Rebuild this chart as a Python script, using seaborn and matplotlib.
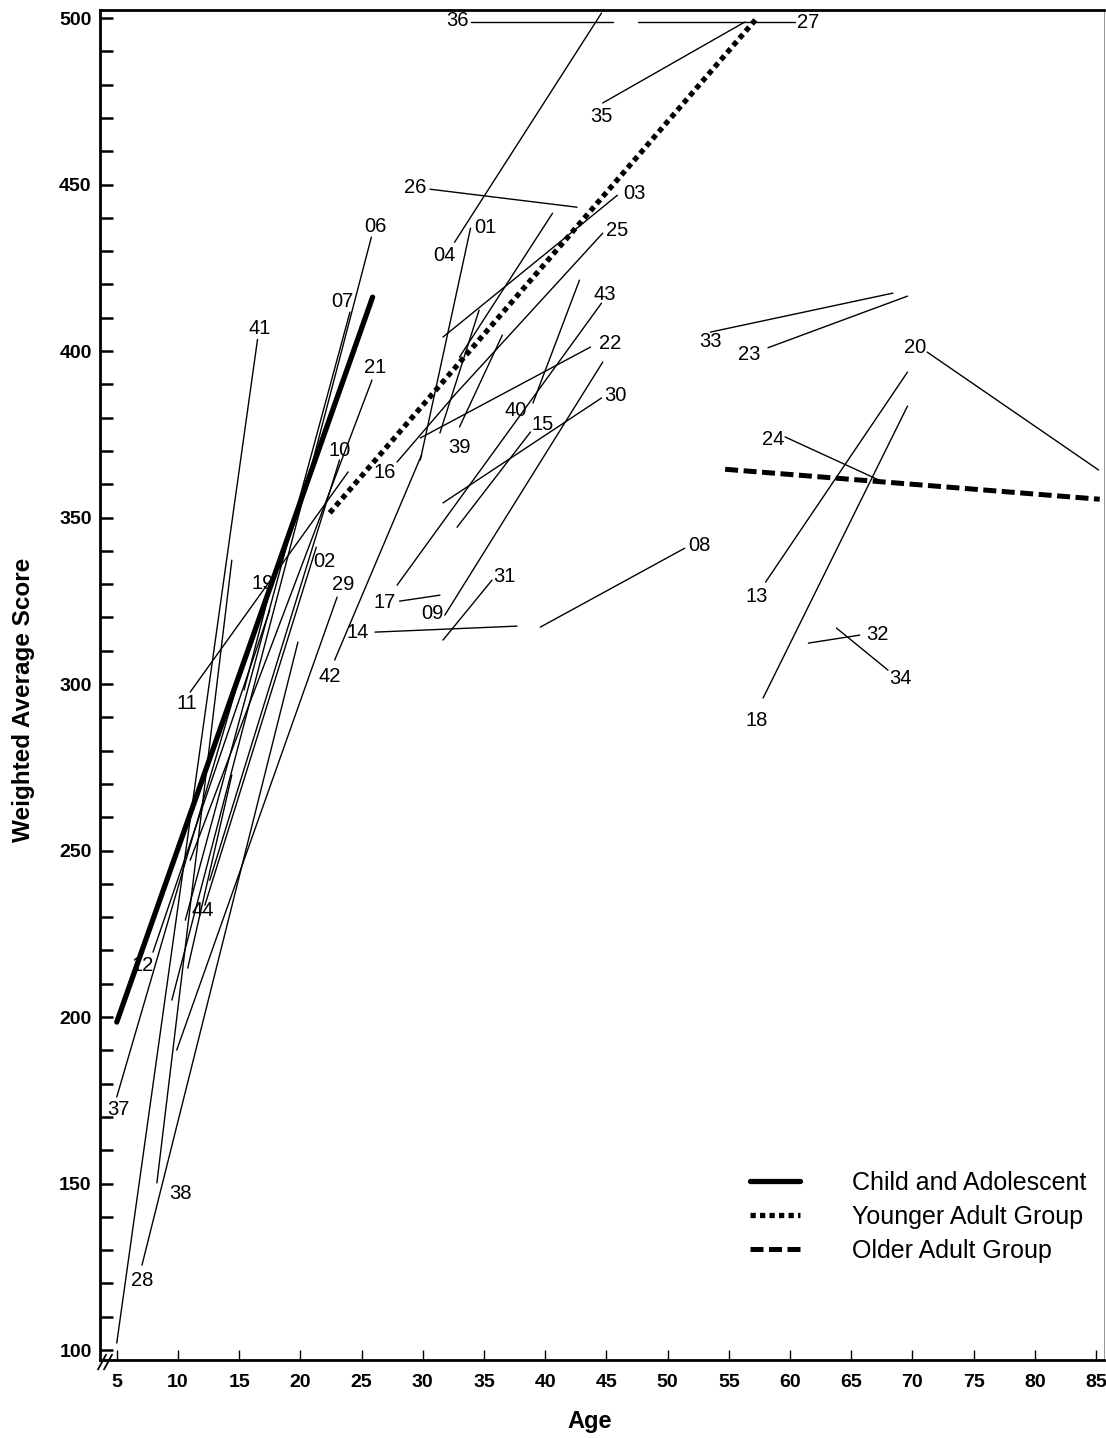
import numpy as np
import pandas as pd
import seaborn as sns
import matplotlib.pyplot as plt

# individual subject lines (start age, start score) -> (end age, end score)
subj_id = ['36', '27', '35', '04', '26', '03', '01', '25', '16', 'u1', 'u2',
           '07', '06', '41', '21', '10', '02', '29', '28', '38', '37', '12',
           '44', '11', '42', '19', '43', '22', '30', '15', '40', '31', '09',
           '14', '08', '17', '39', '33', '23', '20', '24', '13', '18', '32', '34']
age_start = [33.9, 47.6, 44.7, 32.6, 30.6, 31.65, 29.8, 32.6, 27.9, 40.6, 34.6,
             24.05, 25.8, 5.0, 25.85, 23.2, 21.3, 23.0, 7.06, 8.28, 5.0, 7.96,
             10.8, 11.0, 22.8, 17.35, 27.9, 29.8, 31.65, 32.8, 39.0, 31.65, 31.8,
             26.1, 39.6, 28.1, 33.0, 53.5, 58.2, 71.2, 59.6, 58.0, 57.8, 61.5, 63.8]
score_start = [498.8, 498.8, 474.5, 432.7, 448.6, 404.2, 367.3, 386.8, 366.7, 441.4, 412.3,
               411.7, 434.2, 102.1, 391.3, 367.3, 341.1, 326.1, 125.5, 150.2, 176.0, 219.5,
               214.7, 297.6, 307.2, 325.8, 329.7, 373.9, 354.4, 347.1, 384.4, 313.2, 320.7,
               315.6, 317.1, 324.9, 377.2, 405.7, 401.0, 399.7, 374.2, 330.6, 295.8, 312.3, 316.8]
age_end = [45.5, 60.4, 56.3, 44.6, 42.6, 45.9, 33.9, 44.7, 32.6, 33.0, 31.4,
           10.6, 9.5, 16.5, 11.0, 12.6, 12.2, 9.9, 19.8, 14.4, 15.9, 17.5,
           14.4, 23.9, 29.9, 15.4, 44.6, 43.7, 44.6, 38.8, 42.8, 35.65, 44.7,
           37.7, 51.4, 31.4, 36.5, 68.4, 69.6, 85.2, 67.6, 69.6, 69.6, 65.7, 68.0]
score_end = [498.8, 498.8, 498.8, 501.5, 443.2, 446.8, 436.9, 435.4, 386.8, 398.2, 375.4,
             229.1, 205.1, 403.5, 247.1, 241.1, 233.6, 190.1, 312.6, 337.2, 313.2, 322.2,
             272.7, 363.7, 368.8, 298.2, 414.4, 401.2, 385.9, 375.7, 421.3, 331.2, 396.7,
             317.4, 340.8, 326.7, 404.8, 417.4, 416.5, 364.3, 360.7, 393.7, 383.5, 314.7, 304.2]

# where each subject number is printed
label_text = ['36', '27', '35', '04', '26', '03', '01', '25', '16', '', '',
              '07', '06', '41', '21', '10', '02', '29', '28', '38', '37', '12',
              '44', '11', '42', '19', '43', '22', '30', '15', '40', '31', '09',
              '14', '08', '17', '39', '33', '23', '20', '24', '13', '18', '32', '34']
label_age = [32.8, 61.5, 44.6, 31.8, 29.4, 47.3, 35.1, 45.9, 26.9, 0, 0,
             23.4, 26.1, 16.7, 26.1, 23.2, 22.0, 23.5, 7.1, 10.2, 5.1, 7.1,
             12.0, 10.7, 22.4, 16.9, 44.9, 45.3, 45.7, 39.8, 37.6, 36.7, 30.75,
             24.7, 52.6, 26.9, 33.0, 53.5, 56.7, 70.2, 58.6, 57.3, 57.3, 67.1, 69.0]
label_score = [499.4, 498.8, 470.3, 428.8, 449.0, 447.4, 437.2, 436.3, 363.4, 0, 0,
               415.0, 437.5, 406.9, 395.2, 370.0, 336.9, 330.0, 121.0, 147.1, 172.1, 215.6,
               232.1, 294.3, 302.4, 330.3, 417.1, 402.4, 386.8, 377.8, 382.3, 332.4, 321.3,
               315.6, 341.7, 324.6, 370.9, 403.0, 399.1, 401.2, 373.3, 326.4, 289.2, 315.0, 301.8]

# group regression lines
group_names = ['Child and Adolescent', 'Younger Adult Group', 'Older Adult Group']
group_age = [[5.0, 25.9], [22.4, 57.3], [54.7, 85.3]]
group_score = [[198.5, 416.2], [351.4, 500.0], [364.5, 355.5]]

sns.set_style('ticks')
plt.rcParams['font.family'] = ['Liberation Sans', 'DejaVu Sans']
plt.rcParams.update({'text.color': 'black', 'axes.labelcolor': 'black',
                     'xtick.color': 'black', 'ytick.color': 'black',
                     'axes.edgecolor': 'black'})

rows = []
for i, sid in enumerate(subj_id):
    rows.append({'id': sid, 'age': age_start[i], 'score': score_start[i]})
    rows.append({'id': sid, 'age': age_end[i], 'score': score_end[i]})
df = pd.DataFrame(rows)

fig = plt.figure(figsize=(11.06, 14.38), dpi=100)
ax = fig.add_axes([0.0904, 0.0542, 0.9078, 0.9388])

sns.lineplot(data=df, x='age', y='score', units='id', estimator=None, sort=False,
             color='black', lw=1.0, legend=False, ax=ax)

styles = ['-', (0, (1, 0.8)), (0, (2.6, 1.1))]
widths = [3.8, 3.8, 3.6]
for name, ga, gs, ls, w in zip(group_names, group_age, group_score, styles, widths):
    sns.lineplot(x=ga, y=gs, color='black', lw=w, linestyle=ls, label=name,
                 ax=ax, sort=False)

for t, la, ls in zip(label_text, label_age, label_score):
    if t:
        ax.text(la, ls, t, fontsize=14.5, ha='center', va='center')

ax.set_xlim(3.63, 85.65)
ax.set_ylim(97.0, 502.4)
ax.set_xticks(range(5, 90, 5))
ax.set_yticks(range(100, 501, 50))
ax.set_yticks(range(100, 501, 10), minor=True)
ax.tick_params(axis='y', which='both', direction='in', length=9.5, width=1.8,
               labelsize=14, pad=6)
ax.tick_params(axis='x', which='major', direction='in', length=7, width=1.0,
               labelsize=14, pad=10)
for lab in ax.get_xticklabels() + ax.get_yticklabels():
    lab.set_fontweight('bold')

ax.set_xlabel('Age', fontsize=17, fontweight='bold')
ax.set_ylabel('Weighted Average Score', fontsize=17.5, fontweight='bold')
ax.xaxis.set_label_coords(0.488, -0.037)
ax.yaxis.set_label_coords(-0.0647, 0.489)

for side in ['left', 'bottom', 'top']:
    ax.spines[side].set_linewidth(2.0)
ax.spines['right'].set_linewidth(0.6)
ax.spines['right'].set_color('#888888')

# axis break mark
for dx in [0.0, 0.006]:
    ax.plot([-0.002 + dx, 0.006 + dx], [-0.007, 0.004], transform=ax.transAxes,
            color='black', lw=1.3, clip_on=False)

ax.legend(loc='upper left', bbox_to_anchor=(0.647, 0.140), frameon=False,
          fontsize=18, handlelength=2.0, handletextpad=2.1, labelspacing=0.4,
          borderaxespad=0, borderpad=0)

plt.savefig('out.png', dpi=100)
plt.close()
